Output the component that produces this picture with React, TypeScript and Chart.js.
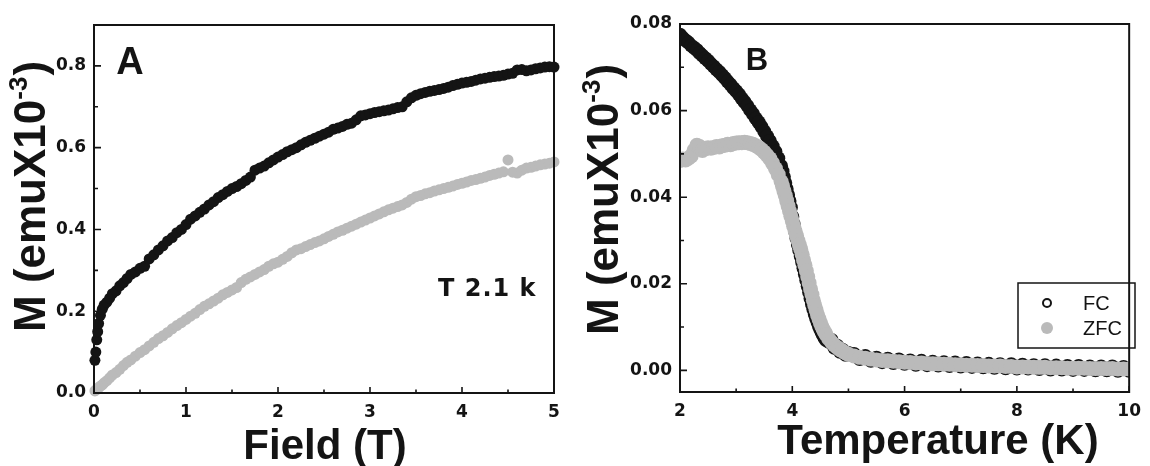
import React, { useEffect, useRef } from "react";
import { Chart, registerables } from "chart.js";

Chart.register(...registerables);

// ---------- Panel A: M vs Field at T = 2.1 K ----------
const FIELD_T = [
  0.01, 0.02, 0.03, 0.04, 0.05, 0.07, 0.09, 0.11, 0.14, 0.17,
  0.2, 0.24, 0.28, 0.32, 0.36, 0.4, 0.45, 0.5, 0.55, 0.6,
  0.65, 0.7, 0.75, 0.8, 0.85, 0.9, 0.95, 1.0, 1.05, 1.1,
  1.15, 1.2, 1.25, 1.3, 1.35, 1.4, 1.45, 1.5, 1.55, 1.6,
  1.65, 1.7, 1.75, 1.8, 1.85, 1.9, 1.95, 2.0, 2.05, 2.1,
  2.15, 2.2, 2.25, 2.3, 2.35, 2.4, 2.45, 2.5, 2.55, 2.6,
  2.65, 2.7, 2.75, 2.8, 2.85, 2.9, 2.95, 3.0, 3.05, 3.1,
  3.15, 3.2, 3.25, 3.3, 3.35, 3.4, 3.45, 3.5, 3.55, 3.6,
  3.65, 3.7, 3.75, 3.8, 3.85, 3.9, 3.95, 4.0, 4.05, 4.1,
  4.15, 4.2, 4.25, 4.3, 4.35, 4.4, 4.45, 4.5, 4.55, 4.6,
  4.65, 4.7, 4.75, 4.8, 4.85, 4.9, 4.95, 5.0,
];
const M_FIELD_BLACK = [
  0.08, 0.10, 0.13, 0.15, 0.17, 0.19, 0.205, 0.215, 0.222, 0.232,
  0.243, 0.25, 0.262, 0.27, 0.28, 0.29, 0.296, 0.305, 0.31, 0.328,
  0.338, 0.35, 0.36, 0.372, 0.38, 0.392, 0.40, 0.412, 0.425, 0.433,
  0.442, 0.45, 0.46, 0.468, 0.478, 0.485, 0.493, 0.50, 0.505, 0.512,
  0.52, 0.528, 0.545, 0.55, 0.555, 0.563, 0.57, 0.577, 0.583, 0.59,
  0.595, 0.60, 0.607, 0.613, 0.618, 0.623, 0.628, 0.633, 0.638, 0.645,
  0.648, 0.652, 0.657, 0.66, 0.668, 0.678, 0.68, 0.683, 0.686, 0.688,
  0.69, 0.692, 0.695, 0.698, 0.70, 0.712, 0.722, 0.728, 0.732, 0.735,
  0.738, 0.74, 0.742, 0.745, 0.748, 0.752, 0.755, 0.758, 0.76, 0.762,
  0.765, 0.768, 0.77, 0.772, 0.774, 0.775, 0.777, 0.78, 0.782, 0.79,
  0.791, 0.788, 0.79, 0.793, 0.795, 0.797, 0.798, 0.797,
];
const M_FIELD_GRAY = [
  0.005, 0.007, 0.009, 0.011, 0.013, 0.017, 0.02, 0.025, 0.03, 0.037,
  0.044, 0.05, 0.058, 0.067, 0.075, 0.081, 0.09, 0.099, 0.106, 0.115,
  0.124, 0.133, 0.14, 0.148, 0.157, 0.165, 0.172, 0.18, 0.188, 0.195,
  0.204, 0.212, 0.218, 0.225, 0.232, 0.24, 0.246, 0.252, 0.258, 0.27,
  0.278, 0.284, 0.29, 0.296, 0.302, 0.31, 0.316, 0.32, 0.327, 0.334,
  0.343, 0.35, 0.353, 0.358, 0.363, 0.368, 0.372, 0.377, 0.383, 0.388,
  0.394, 0.398, 0.403, 0.408, 0.413, 0.418, 0.423, 0.428, 0.433, 0.438,
  0.443, 0.448, 0.452, 0.456, 0.46, 0.466, 0.474, 0.48, 0.483, 0.487,
  0.49, 0.494, 0.497, 0.50, 0.503, 0.506, 0.51, 0.513, 0.516, 0.52,
  0.522, 0.525, 0.528, 0.532, 0.535, 0.538, 0.541, 0.57, 0.54, 0.538,
  0.545, 0.55, 0.552, 0.555, 0.558, 0.56, 0.562, 0.565,
];
const FIELD_TICKS = [0, 1, 2, 3, 4, 5];
const FIELD_MINOR = [0.5, 1.5, 2.5, 3.5, 4.5];
const MA_TICKS = [0, 0.2, 0.4, 0.6, 0.8];
const MA_MINOR = [0.1, 0.3, 0.5, 0.7];

// ---------- Panel B: M vs Temperature (FC / ZFC) ----------
const TEMP_K = [
  2.0, 2.05, 2.1, 2.15, 2.2, 2.25, 2.3, 2.35, 2.4, 2.45,
  2.5, 2.55, 2.6, 2.65, 2.7, 2.75, 2.8, 2.85, 2.9, 2.95,
  3.0, 3.05, 3.1, 3.15, 3.2, 3.25, 3.3, 3.35, 3.4, 3.45,
  3.5, 3.55, 3.6, 3.65, 3.7, 3.75, 3.8,
  3.825, 3.85, 3.875, 3.9, 3.925, 3.95, 3.975, 4.0,
  4.025, 4.05, 4.075, 4.1, 4.125, 4.15, 4.175, 4.2,
  4.225, 4.25, 4.275, 4.3, 4.325, 4.35, 4.375, 4.4,
  4.425, 4.45, 4.475, 4.5, 4.525, 4.55, 4.575, 4.6,
  4.65, 4.7, 4.75, 4.8, 4.85, 4.9, 4.95, 5.0,
  5.1, 5.2, 5.3, 5.4, 5.5, 5.6, 5.7, 5.8, 5.9, 6.0,
  6.1, 6.2, 6.3, 6.4, 6.5, 6.6, 6.7, 6.8, 6.9, 7.0,
  7.1, 7.2, 7.3, 7.4, 7.5, 7.6, 7.7, 7.8, 7.9, 8.0,
  8.1, 8.2, 8.3, 8.4, 8.5, 8.6, 8.7, 8.8, 8.9, 9.0,
  9.1, 9.2, 9.3, 9.4, 9.5, 9.6, 9.7, 9.8, 9.9, 10.0,
];
const M_FC = [
  0.0775, 0.0768, 0.0762, 0.0757, 0.0750, 0.0745, 0.0740, 0.0733, 0.0727, 0.0721,
  0.0715, 0.0708, 0.0702, 0.0695, 0.0689, 0.0682, 0.0675, 0.0667, 0.0660, 0.0652,
  0.0645, 0.0637, 0.0628, 0.0620, 0.0611, 0.0601, 0.0592, 0.0582, 0.0573, 0.0563,
  0.0552, 0.0541, 0.0530, 0.0518, 0.0505, 0.0490, 0.0472,
  0.0460, 0.0447, 0.0433, 0.0419, 0.0405, 0.0391, 0.0376, 0.0355,
  0.0338, 0.0321, 0.0305, 0.0290, 0.0277, 0.0264, 0.0250, 0.0236,
  0.0222, 0.0208, 0.0194, 0.0180, 0.0166, 0.0153, 0.0141, 0.0130,
  0.0120, 0.0111, 0.0102, 0.0094, 0.0087, 0.0081, 0.0075, 0.0070,
  0.0066, 0.0070, 0.0052, 0.0057, 0.0043, 0.0047, 0.0036, 0.0040,
  0.0038, 0.0026, 0.0033, 0.0022, 0.0029, 0.0019, 0.0027, 0.0017, 0.0025, 0.0015,
  0.0023, 0.0013, 0.0022, 0.0012, 0.0020, 0.0011, 0.0019, 0.0010, 0.0018, 0.0009,
  0.0017, 0.0008, 0.0016, 0.0007, 0.0015, 0.0006, 0.0014, 0.0005, 0.0014, 0.0004,
  0.0013, 0.0004, 0.0012, 0.0003, 0.0012, 0.0002, 0.0011, 0.0002, 0.0010, 0.0001,
  0.0010, 0.0001, 0.0009, 0.0000, 0.0009, 0.0000, 0.0009, -0.0001, 0.0008, -0.0001,
];
const M_ZFC = [
  0.0485, 0.0488, 0.0486, 0.0490, 0.0495, 0.0508, 0.0520, 0.0517, 0.0508, 0.0512,
  0.0514, 0.0513, 0.0515, 0.0517, 0.0516, 0.0519, 0.0520, 0.0522, 0.0521, 0.0524,
  0.0525, 0.0526, 0.0526, 0.0527, 0.0526, 0.0524, 0.0522, 0.0519, 0.0515, 0.0510,
  0.0504, 0.0497, 0.0489, 0.0478, 0.0466, 0.0452, 0.0436,
  0.0426, 0.0415, 0.0404, 0.0392, 0.0380, 0.0368, 0.0356, 0.0345,
  0.0333, 0.0322, 0.0311, 0.0300, 0.0290, 0.0280, 0.0268, 0.0255,
  0.0243, 0.0230, 0.0216, 0.0202, 0.0188, 0.0175, 0.0162, 0.0150,
  0.0139, 0.0128, 0.0119, 0.0110, 0.0102, 0.0095, 0.0089, 0.0083,
  0.0073, 0.0065, 0.0058, 0.0053, 0.0048, 0.0044, 0.0040, 0.0037,
  0.0033, 0.0030, 0.0028, 0.0026, 0.0024, 0.0023, 0.0022, 0.0021, 0.0020, 0.0019,
  0.0018, 0.0017, 0.0017, 0.0016, 0.0015, 0.0015, 0.0014, 0.0014, 0.0013, 0.0013,
  0.0012, 0.0012, 0.0011, 0.0011, 0.0010, 0.0010, 0.0010, 0.0009, 0.0009, 0.0008,
  0.0008, 0.0008, 0.0007, 0.0007, 0.0007, 0.0006, 0.0006, 0.0006, 0.0005, 0.0005,
  0.0005, 0.0005, 0.0004, 0.0004, 0.0004, 0.0004, 0.0004, 0.0003, 0.0003, 0.0003,
];
const TEMP_TICKS = [2, 4, 6, 8, 10];
const TEMP_MINOR = [3, 5, 7, 9];
const MB_TICKS = [0, 0.02, 0.04, 0.06, 0.08];
const MB_MINOR = [0.01, 0.03, 0.05, 0.07];

const LEGEND_LABELS = ["FC", "ZFC"];

// ---------- styling ----------
const INK = "#141414";
const GRAY = "#bababa";
const SANS = '"Liberation Sans", Arial, Helvetica, sans-serif';
const TICK_FONT = { family: '"DejaVu Sans", sans-serif', weight: "bold" as const, size: 17 };

function pairs(xs: number[], ys: number[]) {
  return xs.map((x, i) => ({ x, y: ys[i] }));
}

function drawYTitle(ctx: CanvasRenderingContext2D, baseX: number, startY: number, size: number) {
  ctx.save();
  ctx.translate(baseX, startY);
  ctx.rotate(-Math.PI / 2);
  ctx.fillStyle = INK;
  ctx.textAlign = "left";
  ctx.textBaseline = "alphabetic";
  const main = `bold ${size}px ${SANS}`;
  const sup = `bold ${Math.round(size * 0.6)}px ${SANS}`;
  let x = 0;
  ctx.font = main;
  const t1 = "M (emuX10";
  ctx.fillText(t1, x, 0);
  x += ctx.measureText(t1).width;
  ctx.font = sup;
  ctx.fillText("-3", x, -size * 0.4);
  x += ctx.measureText("-3").width + 1;
  ctx.font = main;
  ctx.fillText(")", x, 0);
  ctx.restore();
}

type Panel = {
  datasets: any[];
  xMin: number; xMax: number; yMin: number; yMax: number;
  xTicks: number[]; xMinor: number[]; yTicks: number[]; yMinor: number[];
  xDigits: number; yDigits: number;
  yAxisWidth: number; xAxisHeight: number; padRight: number; padTop: number;
  xTitle: string; xTitleX: number; xTitleBase: number;
  yTitleX: number; yTitleY: number; yTitleSize: number;
  letter: string; letterSize: number; letterX: number; letterBase: number;
  note?: { text: string; x: number; y: number };
  legend?: { left: number; top: number; right: number; bottom: number };
};

function makeDecor(p: Panel) {
  return {
    id: "decor",
    afterDraw(chart: any) {
      const { ctx, chartArea: ca } = chart;
      const xs = chart.scales.x;
      const ys = chart.scales.y;
      ctx.save();
      // ticks (inward)
      ctx.strokeStyle = INK;
      ctx.lineWidth = 1.6;
      ctx.beginPath();
      p.xTicks.forEach((v) => {
        const x = xs.getPixelForValue(v);
        ctx.moveTo(x, ca.bottom); ctx.lineTo(x, ca.bottom - 6);
      });
      p.xMinor.forEach((v) => {
        const x = xs.getPixelForValue(v);
        ctx.moveTo(x, ca.bottom); ctx.lineTo(x, ca.bottom - 3.5);
      });
      p.yTicks.forEach((v) => {
        const y = ys.getPixelForValue(v);
        ctx.moveTo(ca.left, y); ctx.lineTo(ca.left + 7, y);
      });
      p.yMinor.forEach((v) => {
        const y = ys.getPixelForValue(v);
        ctx.moveTo(ca.left, y); ctx.lineTo(ca.left + 4, y);
      });
      ctx.stroke();
      // frame
      ctx.lineWidth = 2;
      ctx.strokeRect(ca.left, ca.top, ca.right - ca.left, ca.bottom - ca.top);
      // x title
      ctx.fillStyle = INK;
      ctx.font = `bold 42px ${SANS}`;
      ctx.textAlign = "center";
      ctx.textBaseline = "alphabetic";
      ctx.fillText(p.xTitle, p.xTitleX, p.xTitleBase);
      // y title
      drawYTitle(ctx, p.yTitleX, p.yTitleY, p.yTitleSize);
      // panel letter
      ctx.font = `bold ${p.letterSize}px ${SANS}`;
      ctx.textAlign = "center";
      ctx.fillText(p.letter, p.letterX, p.letterBase);
      // note
      if (p.note) {
        ctx.font = `bold 24px "DejaVu Sans", sans-serif`;
        ctx.textAlign = "left";
        (ctx as any).letterSpacing = "1px";
        ctx.fillText(p.note.text, p.note.x, p.note.y);
        (ctx as any).letterSpacing = "0px";
      }
      // legend
      if (p.legend) {
        const L = p.legend;
        ctx.lineWidth = 1.5;
        ctx.strokeStyle = INK;
        ctx.strokeRect(L.left, L.top, L.right - L.left, L.bottom - L.top);
        const rows = [L.top + 20, L.top + 45];
        const sx = L.left + 29;
        const tx = L.left + 65;
        ctx.font = `20px ${SANS}`;
        ctx.textAlign = "left";
        ctx.textBaseline = "middle";
        chart.data.datasets.forEach((ds: any, i: number) => {
          const y = rows[i];
          ctx.beginPath();
          if (ds.legendOpen) {
            ctx.arc(sx, y, 4, 0, Math.PI * 2);
            ctx.lineWidth = 2;
            ctx.strokeStyle = INK;
            ctx.stroke();
          } else {
            ctx.arc(sx, y, 6, 0, Math.PI * 2);
            ctx.fillStyle = ds.backgroundColor;
            ctx.fill();
          }
          ctx.fillStyle = INK;
          ctx.fillText(ds.label, tx, y + 1);
        });
      }
      ctx.restore();
    },
  };
}

function buildConfig(p: Panel): any {
  return {
    type: "scatter",
    data: { datasets: p.datasets },
    options: {
      animation: false,
      responsive: false,
      events: [],
      layout: { padding: { left: 0, right: p.padRight, top: p.padTop, bottom: 0 } },
      plugins: { legend: { display: false }, tooltip: { enabled: false } },
      scales: {
        x: {
          type: "linear",
          position: "bottom",
          min: p.xMin,
          max: p.xMax,
          afterBuildTicks: (s: any) => { s.ticks = p.xTicks.map((v) => ({ value: v })); },
          afterFit: (s: any) => { s.height = p.xAxisHeight; },
          grid: { display: false, drawTicks: false },
          border: { display: false },
          ticks: {
            font: TICK_FONT, color: INK, padding: 9, maxRotation: 0, autoSkip: false,
            callback: (v: any) => Number(v).toFixed(p.xDigits),
          },
        },
        y: {
          type: "linear",
          min: p.yMin,
          max: p.yMax,
          afterBuildTicks: (s: any) => { s.ticks = p.yTicks.map((v) => ({ value: v })); },
          afterFit: (s: any) => { s.width = p.yAxisWidth; },
          grid: { display: false, drawTicks: false },
          border: { display: false },
          ticks: {
            font: TICK_FONT, color: INK, padding: 8, autoSkip: false,
            callback: (v: any) => Number(v).toFixed(p.yDigits),
          },
        },
      },
    },
    plugins: [makeDecor(p)],
  };
}

const panelA: Panel = {
  datasets: [
    {
      label: "2.1 K (black)",
      data: pairs(FIELD_T, M_FIELD_BLACK),
      pointRadius: 5.5, pointHoverRadius: 5.5, borderWidth: 0,
      backgroundColor: INK, borderColor: INK, clip: false,
    },
    {
      label: "2.1 K (gray)",
      data: pairs(FIELD_T, M_FIELD_GRAY),
      pointRadius: 5.5, pointHoverRadius: 5.5, borderWidth: 0,
      backgroundColor: GRAY, borderColor: GRAY, clip: false,
    },
  ],
  xMin: 0, xMax: 5, yMin: 0, yMax: 0.9,
  xTicks: FIELD_TICKS, xMinor: FIELD_MINOR, yTicks: MA_TICKS, yMinor: MA_MINOR,
  xDigits: 0, yDigits: 1,
  yAxisWidth: 94, xAxisHeight: 73, padRight: 21, padTop: 25,
  xTitle: "Field (T)", xTitleX: 325, xTitleBase: 459,
  yTitleX: 45, yTitleY: 332, yTitleSize: 44,
  letter: "A", letterSize: 38, letterX: 130, letterBase: 74,
  note: { text: "T 2.1 k", x: 438, y: 296 },
};

const panelB: Panel = {
  datasets: [
    {
      label: LEGEND_LABELS[0],
      data: pairs(TEMP_K, M_FC),
      pointRadius: 7, pointHoverRadius: 7, borderWidth: 0,
      backgroundColor: INK, borderColor: INK, order: 1, clip: 0,
      legendOpen: true,
    },
    {
      label: LEGEND_LABELS[1],
      data: pairs(TEMP_K, M_ZFC),
      pointRadius: 7.5, pointHoverRadius: 7.5, borderWidth: 0,
      backgroundColor: GRAY, borderColor: GRAY, order: 0, clip: 0,
    },
  ],
  xMin: 2, xMax: 10, yMin: -0.005, yMax: 0.08,
  xTicks: TEMP_TICKS, xMinor: TEMP_MINOR, yTicks: MB_TICKS, yMinor: MB_MINOR,
  xDigits: 0, yDigits: 2,
  yAxisWidth: 105, xAxisHeight: 74, padRight: 13, padTop: 24,
  xTitle: "Temperature (K)", xTitleX: 363, xTitleBase: 454,
  yTitleX: 43, yTitleY: 335, yTitleSize: 44,
  letter: "B", letterSize: 31, letterX: 182, letterBase: 70,
  legend: { left: 443, top: 283, right: 560, bottom: 348 },
};

export default function App() {
  const refA = useRef<HTMLCanvasElement>(null);
  const refB = useRef<HTMLCanvasElement>(null);
  useEffect(() => {
    const a = new Chart(refA.current as HTMLCanvasElement, buildConfig(panelA));
    const b = new Chart(refB.current as HTMLCanvasElement, buildConfig(panelB));
    return () => {
      a.destroy();
      b.destroy();
    };
  }, []);
  return (
    <div style={{ position: "absolute", left: 0, top: 0, width: 1150, height: 466, background: "#fff", overflow: "hidden" }}>
      <canvas ref={refA} width={575} height={466} style={{ position: "absolute", left: 0, top: 0, width: 575, height: 466 }} />
      <canvas ref={refB} width={575} height={466} style={{ position: "absolute", left: 575, top: 0, width: 575, height: 466 }} />
    </div>
  );
}
